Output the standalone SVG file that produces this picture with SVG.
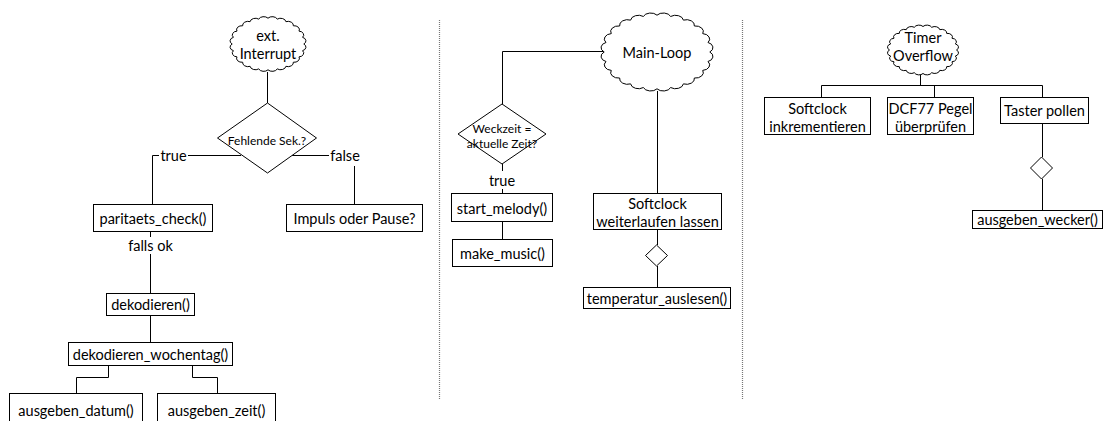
<svg xmlns="http://www.w3.org/2000/svg" xmlns:xlink="http://www.w3.org/1999/xlink" width="1104" height="421" viewBox="0 0 1104 421">
  <style>
    text { font-family: Lato, "Open Sans", "Liberation Sans", sans-serif; font-size: 14.5px; fill: #000; text-anchor: middle; dominant-baseline: central; }
    text.small { font-size: 12px; }
    .box { fill: #fff; stroke: #000; stroke-width: 1; }
    .dia { fill: #fff; stroke: #000; stroke-width: 1; }
    .cloud { fill: #fff; stroke: #000; stroke-width: 1; }
    .wire { fill: none; stroke: #000; stroke-width: 1; }
    .sep { fill: none; stroke: #777; stroke-width: 1.2; stroke-dasharray: 1 1; }
  </style>
  <defs>
    <!-- scalloped cloud outline on a radius-100 circle, scaled per node -->
    <path id="cloud" vector-effect="non-scaling-stroke" d="M100,0 A15,15 0 0 1 96.59,25.88 A15,15 0 0 1 86.6,50 A15,15 0 0 1 70.71,70.71 A15,15 0 0 1 50,86.6 A15,15 0 0 1 25.88,96.59 A15,15 0 0 1 0,100 A15,15 0 0 1 -25.88,96.59 A15,15 0 0 1 -50,86.6 A15,15 0 0 1 -70.71,70.71 A15,15 0 0 1 -86.6,50 A15,15 0 0 1 -96.59,25.88 A15,15 0 0 1 -100,0 A15,15 0 0 1 -96.59,-25.88 A15,15 0 0 1 -86.6,-50 A15,15 0 0 1 -70.71,-70.71 A15,15 0 0 1 -50,-86.6 A15,15 0 0 1 -25.88,-96.59 A15,15 0 0 1 0,-100 A15,15 0 0 1 25.88,-96.59 A15,15 0 0 1 50,-86.6 A15,15 0 0 1 70.71,-70.71 A15,15 0 0 1 86.6,-50 A15,15 0 0 1 96.59,-25.88 A15,15 0 0 1 100,0 Z"/>
  </defs>

  <!-- column separators -->
  <g id="separators">
    <line class="sep" x1="439.5" y1="20" x2="439.5" y2="400"/>
    <line class="sep" x1="742.5" y1="20" x2="742.5" y2="400"/>
  </g>

  <!-- connectors -->
  <g id="connectors">
    <!-- ext. Interrupt column -->
    <path class="wire" d="M267.5,72 V103"/>
    <path class="wire" d="M241,155.5 H188"/>
    <path class="wire" d="M159,155.5 H152.5 V204"/>
    <path class="wire" d="M292,155.5 H329"/>
    <path class="wire" d="M354.5,166 V204"/>
    <path class="wire" d="M150.5,232 V237"/>
    <path class="wire" d="M150.5,254 V293"/>
    <path class="wire" d="M150.5,315 V342"/>
    <path class="wire" d="M108.5,365 V377.5 H76.5 V393"/>
    <path class="wire" d="M192.5,365 V377.5 H217.5 V393"/>
    <!-- Main-Loop column -->
    <path class="wire" d="M603,51.5 H502.5 V104"/>
    <path class="wire" d="M502.5,164 V171"/>
    <path class="wire" d="M502.5,189 V193"/>
    <path class="wire" d="M502.5,222 V239"/>
    <path class="wire" d="M657.5,91 V193"/>
    <path class="wire" d="M657.5,230 V245"/>
    <path class="wire" d="M657.5,266 V287"/>
    <!-- Timer Overflow column -->
    <path class="wire" d="M920.5,74 V85.5"/>
    <path class="wire" d="M821.5,97 V85.5 H1042.5 V97"/>
    <path class="wire" d="M934.5,85.5 V97"/>
    <path class="wire" d="M1042.5,123 V157"/>
    <path class="wire" d="M1042.5,179 V210"/>
  </g>

  <!-- connector labels -->
  <g id="labels">
    <text x="173.5" y="155.5">true</text>
    <text x="345" y="155.5">false</text>
    <text x="150.5" y="245.5">falls ok</text>
    <text x="502" y="180">true</text>
  </g>

  <!-- ext. Interrupt column -->
  <g id="ext-interrupt">
    <use xlink:href="#cloud" class="cloud" transform="translate(268,44) scale(0.358,0.258)"/>
    <text x="268" y="35">ext.</text>
    <text x="268" y="53">Interrupt</text>
  </g>
  <g id="fehlende-sek">
    <polygon class="dia" points="267.5,103 316.5,138 267.5,173 217.5,138"/>
    <text class="small" x="267" y="140">Fehlende Sek.?</text>
  </g>
  <g id="paritaets-check">
    <rect class="box" x="93.5" y="204.5" width="119" height="27"/>
    <text x="153" y="218">paritaets_check()</text>
  </g>
  <g id="impuls-oder-pause">
    <rect class="box" x="286.5" y="204.5" width="136" height="27"/>
    <text x="354.5" y="218">Impuls oder Pause?</text>
  </g>
  <g id="dekodieren">
    <rect class="box" x="106.5" y="293.5" width="88" height="22"/>
    <text x="150.5" y="304.5">dekodieren()</text>
  </g>
  <g id="dekodieren-wochentag">
    <rect class="box" x="68.5" y="342.5" width="164" height="23"/>
    <text x="150.5" y="354">dekodieren_wochentag()</text>
  </g>
  <g id="ausgeben-datum">
    <rect class="box" x="9.5" y="393.5" width="133" height="32"/>
    <text x="76" y="410">ausgeben_datum()</text>
  </g>
  <g id="ausgeben-zeit">
    <rect class="box" x="157.5" y="393.5" width="118" height="32"/>
    <text x="216.5" y="410">ausgeben_zeit()</text>
  </g>

  <!-- Main-Loop column -->
  <g id="main-loop">
    <use xlink:href="#cloud" class="cloud" transform="translate(657,52) scale(0.528,0.368)"/>
    <text x="657" y="52">Main-Loop</text>
  </g>
  <g id="weckzeit">
    <polygon class="dia" points="502,104 546,134 502,164 458,134"/>
    <text class="small" x="502" y="128">Weckzeit =</text>
    <text class="small" x="502" y="143">aktuelle Zeit?</text>
  </g>
  <g id="start-melody">
    <rect class="box" x="451.5" y="193.5" width="101" height="28"/>
    <text x="502" y="208">start_melody()</text>
  </g>
  <g id="make-music">
    <rect class="box" x="452.5" y="239.5" width="100" height="27"/>
    <text x="502.5" y="253">make_music()</text>
  </g>
  <g id="softclock-weiterlaufen">
    <rect class="box" x="593.5" y="193.5" width="128" height="36"/>
    <text x="657.5" y="203">Softclock</text>
    <text x="657.5" y="221.5">weiterlaufen lassen</text>
  </g>
  <g id="softclock-choice">
    <polygon class="dia" points="656.5,245 667.5,255.5 656.5,266 645.5,255.5"/>
  </g>
  <g id="temperatur-auslesen">
    <rect class="box" x="583.5" y="287.5" width="147" height="21"/>
    <text x="657" y="298">temperatur_auslesen()</text>
  </g>

  <!-- Timer Overflow column -->
  <g id="timer-overflow">
    <use xlink:href="#cloud" class="cloud" transform="translate(923,50) scale(0.335,0.235)"/>
    <text x="923" y="37">Timer</text>
    <text x="923" y="55">Overflow</text>
  </g>
  <g id="softclock-inkrementieren">
    <rect class="box" x="764.5" y="97.5" width="106" height="37"/>
    <text x="817.5" y="108.5">Softclock</text>
    <text x="817.5" y="126.5">inkrementieren</text>
  </g>
  <g id="dcf77-pegel">
    <rect class="box" x="887.5" y="97.5" width="86" height="37"/>
    <text x="930.5" y="108.5">DCF77 Pegel</text>
    <text x="930.5" y="126.5">überprüfen</text>
  </g>
  <g id="taster-pollen">
    <rect class="box" x="1000.5" y="97.5" width="88" height="26"/>
    <text x="1044.5" y="110.5">Taster pollen</text>
  </g>
  <g id="taster-choice">
    <polygon class="dia" points="1041.5,157 1052.5,168 1041.5,179 1030.5,168"/>
  </g>
  <g id="ausgeben-wecker">
    <rect class="box" x="972.5" y="210.5" width="130" height="18"/>
    <text x="1037.5" y="219.5">ausgeben_wecker()</text>
  </g>
</svg>
